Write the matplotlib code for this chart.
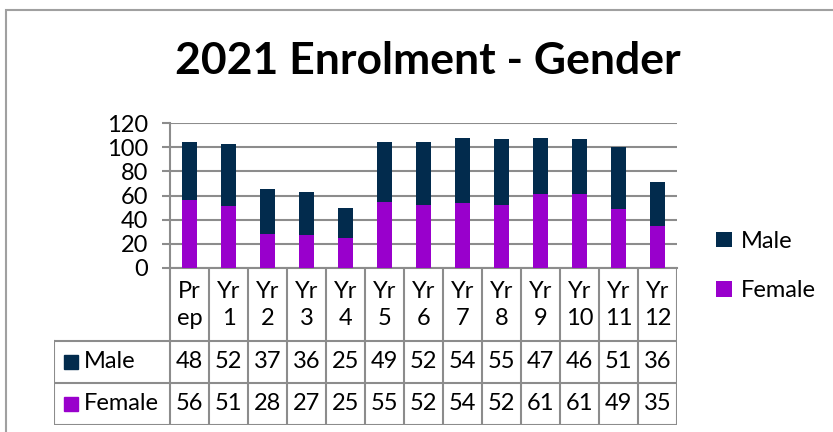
import matplotlib.pyplot as plt
from matplotlib.patches import Rectangle
import numpy as np

plt.rcParams['font.family'] = ['Lato', 'DejaVu Sans']

categories = ['Pr\nep', 'Yr\n1', 'Yr\n2', 'Yr\n3', 'Yr\n4', 'Yr\n5', 'Yr\n6',
              'Yr\n7', 'Yr\n8', 'Yr\n9', 'Yr\n10', 'Yr\n11', 'Yr\n12']
male = [48, 52, 37, 36, 25, 49, 52, 54, 55, 47, 46, 51, 36]
female = [56, 51, 28, 27, 25, 55, 52, 54, 52, 61, 61, 49, 35]

c_male = '#022B4D'
c_female = '#9900CC'
c_grid = '#8C8C8C'
fs = 17

W, H = 833, 432
fig = plt.figure(figsize=(W / 100, H / 100), dpi=100)

# outer chart frame (cropped on right and bottom)
fig.patches.append(Rectangle((6 / W, -0.2), 1.2, 1.2 - 10 / H,
                             transform=fig.transFigure, fill=False,
                             edgecolor='#A0A0A0', lw=1.5))

x0, x1, ytop, y0 = 170, 677, 123, 268
ax = fig.add_axes([x0 / W, 1 - y0 / H, (x1 - x0) / W, (y0 - ytop) / H])
x = np.arange(len(categories))
bf = ax.bar(x, female, width=0.4, color=c_female, label='Female', zorder=3)
bm = ax.bar(x, male, width=0.4, bottom=female, color=c_male, label='Male', zorder=3)
ax.set_xlim(-0.5, len(categories) - 0.5)
ax.set_ylim(0, 120)
ax.set_yticks(range(0, 121, 20))
ax.set_xticks([])
ax.grid(axis='y', color=c_grid, lw=1.5, zorder=0)
for s in ['top', 'right']:
    ax.spines[s].set_visible(False)
for s in ['left', 'bottom']:
    ax.spines[s].set_color(c_grid)
    ax.spines[s].set_linewidth(1.5)
ax.tick_params(axis='y', length=6, width=1.5, color=c_grid, pad=10, labelsize=fs)

# data table
cw = (x1 - x0) / len(categories)
hdr = (x0 - 54) / cw
tax = fig.add_axes([54 / W, 1 - 425 / H, (x1 - 54) / W, (425 - y0) / H])
tax.set_xlim(-0.5 - hdr, len(categories) - 0.5)
tax.set_ylim(425, y0)
tax.axis('off')
rows = [341, 383, 425]
for k in range(len(categories) + 1):
    tax.plot([k - 0.5, k - 0.5], [y0, 425], color=c_grid, lw=1.5)
tax.plot([-0.5 - hdr, -0.5 - hdr], [341, 425], color=c_grid, lw=1.5)
for r in rows:
    tax.plot([-0.5 - hdr, len(categories) - 0.5], [r, r], color=c_grid, lw=1.5)
for i, c in enumerate(categories):
    tax.text(i, 305, c, ha='center', va='center', fontsize=fs, linespacing=1.3)
    tax.text(i, 362, str(male[i]), ha='center', va='center', fontsize=fs)
    tax.text(i, 404, str(female[i]), ha='center', va='center', fontsize=fs)
for lab, col, yc in [('Male', c_male, 362), ('Female', c_female, 404)]:
    tax.plot([-0.5 - (x0 - 71) / cw], [yc], marker='s', ms=10.5, color=col, ls='none')
    tax.text(-0.5 - (x0 - 84) / cw, yc, lab, ha='left', va='center', fontsize=fs)

fig.text(428 / W, 1 - 61 / H, '2021 Enrolment - Gender', ha='center', va='center',
         fontsize=32, fontweight='bold')

fig.legend(handles=[bm, bf], labels=['Male', 'Female'], loc='center left',
           bbox_to_anchor=(695 / W, 1 - 266 / H), frameon=False, fontsize=fs,
           handlelength=0.65, handleheight=0.65, handletextpad=0.4, labelspacing=1.2)

fig.savefig('out.png', dpi=100)
